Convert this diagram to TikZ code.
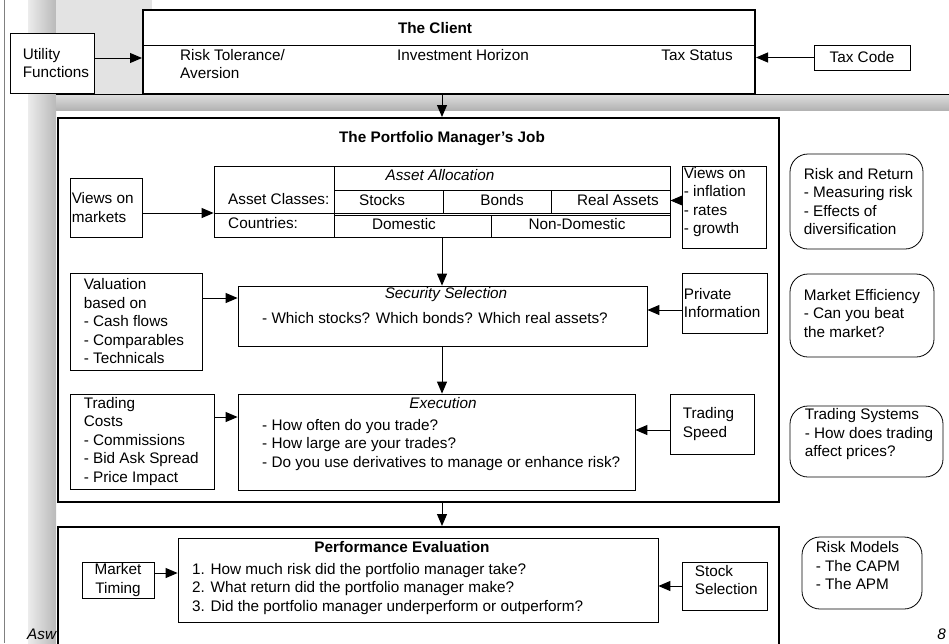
\documentclass[tikz,border=0pt]{standalone}
\usepackage{fontspec}
\setmainfont{Liberation Sans}
\usetikzlibrary{positioning,arrows.meta}

\tikzset{
  every node/.style={inner sep=0pt},
  box/.style={draw, line width=0.8pt, fill=white},
  bigbox/.style={draw, line width=2pt, fill=white},
  roundbox/.style={draw, line width=0.8pt, fill=white, rounded corners=18pt},
  txt/.style={align=left},
  arr/.style={line width=1pt, -{Triangle[length=12pt,width=10pt]}},
}

\begin{document}
\fontsize{15.3}{18.5}\selectfont
\begin{tikzpicture}[x=1pt, y=-1pt]
\useasboundingbox (0,0) rectangle (949,643);

% slide background
\draw[gray] (4,0) -- (4,643);
\shade[left color=gray!15, right color=gray!55] (28,0) rectangle (56,643);
\fill[gray!22] (56,0) rectangle (152,110);
\shade[top color=gray!25, bottom color=gray!60] (56,94) rectangle (949,110);
\draw (56,94) -- (949,94);

\node[anchor=base west, font=\itshape] (foot) at (27,639) {Asw};
\node[anchor=base east, font=\itshape] (page) at (946,639) {8};

% the client
\node[bigbox, minimum width=612, minimum height=84] (client) at (449,52) {};
\draw[line width=0.8pt] (143,45) -- (755,45);
\node[font=\bfseries] (clientT) at (435,28) {The Client};
\node[txt, anchor=west] (risk) at (180,64) {Risk Tolerance/\\Aversion};
\node (horizon) at (463,55) {Investment Horizon};
\node[anchor=east] (taxstat) at (733,55) {Tax Status};

\node[box, minimum width=84, minimum height=60] (util) at (52,63) {};
\node[txt, right=13pt of util.west] (utilT) {Utility\\Functions};

\node[box, minimum width=96, minimum height=25] (taxcode) at (862,57.5) {Tax Code};

% the portfolio manager's job
\node[bigbox, minimum width=721, minimum height=384] (port) at (418.5,310) {};
\node[font=\bfseries] (portT) at (442,139) {The Portfolio Manager’s Job};

\node[box, minimum width=72, minimum height=59] (markets) at (106,207.5) {};
\node[txt, right=2pt of markets.west] (marketsT) {Views on\\markets};

\node[box, minimum width=456, minimum height=71] (alloc) at (442,201.5) {};
\draw[line width=0.8pt] (334,166) -- (334,237);
\draw[line width=0.8pt] (334,190) -- (670,190);
\draw[line width=0.8pt] (214,213) -- (670,213);
\draw[line width=0.8pt] (334,215) -- (670,215);
\draw[line width=0.8pt] (443,190) -- (443,213);
\draw[line width=0.8pt] (551,190) -- (551,213);
\draw[line width=0.8pt] (491,215) -- (491,237);
\node[font=\itshape] (allocT) at (440,175) {Asset Allocation};
\node[anchor=west] (classes) at (228,199) {Asset Classes:};
\node[anchor=west] (countries) at (228,223) {Countries:};
\node (stocks) at (382,200) {Stocks};
\node (bonds) at (502,200) {Bonds};
\node (real) at (618,200) {Real Assets};
\node (domestic) at (404,224) {Domestic};
\node (nondom) at (577,224) {Non-Domestic};

\node[box, minimum width=84, minimum height=82] (infl) at (724,207) {};
\node[txt, right=2pt of infl.west, yshift=5pt] (inflT) {Views on\\- inflation\\- rates\\- growth};

\node[box, minimum width=132, minimum height=97] (val) at (136,321.5) {};
\node[txt, right=14pt of val.west] (valT) {Valuation\\based on\\- Cash flows\\- Comparables\\- Technicals};

\node[box, minimum width=409, minimum height=60] (sec) at (442.5,316) {};
\node[font=\itshape] (secT) at (446,295) {Security Selection};
\node[anchor=west] (secQ) at (262,318) {- Which stocks? Which bonds? Which real assets?};

\node[box, minimum width=85, minimum height=60] (priv) at (724.5,303) {};
\node[txt, right=2pt of priv.west] (privT) {Private\\Information};

\node[box, minimum width=144, minimum height=95] (costs) at (142,441.5) {};
\node[txt, right=14pt of costs.west] (costsT) {Trading\\Costs\\- Commissions\\- Bid Ask Spread\\- Price Impact};

\node[box, minimum width=397, minimum height=96] (exec) at (436.5,442) {};
\node[font=\itshape] (execT) at (443,403) {Execution};
\node[txt, anchor=west] (execQ) at (262,445) {- How often do you trade?\\- How large are your trades?\\- Do you use derivatives to manage or enhance risk?};

\node[box, minimum width=84, minimum height=60] (speed) at (712,424) {};
\node[txt, right=13pt of speed.west] (speedT) {Trading\\Speed};

% topics on the right
\node[roundbox, minimum width=133, minimum height=95] (riskret) at (856.5,201.5) {};
\node[txt, right=14pt of riskret.west] (riskretT) {Risk and Return\\- Measuring risk\\- Effects of\\diversification};

\node[roundbox, minimum width=144, minimum height=83] (eff) at (862,315.5) {};
\node[txt, right=14pt of eff.west, yshift=2pt] (effT) {Market Efficiency\\- Can you beat\\the market?};

\node[roundbox, minimum width=153, minimum height=71] (tsys) at (866.5,441.5) {};
\node[txt, right=15pt of tsys.west, yshift=7pt] (tsysT) {Trading Systems\\- How does trading\\affect prices?};

\node[roundbox, minimum width=120, minimum height=72] (models) at (862,573) {};
\node[txt, right=14pt of models.west, yshift=7pt] (modelsT) {Risk Models\\- The CAPM\\- The APM};

% performance evaluation
\node[bigbox, minimum width=721, minimum height=133] (evalbox) at (418.5,593.5) {};
\node[box, minimum width=480, minimum height=84] (perf) at (418,580) {};
\node[font=\bfseries] (perfT) at (402,547) {Performance Evaluation};
\node[txt, anchor=west] (perfQ) at (192,589) {1. How much risk did the portfolio manager take?\\2. What return did the portfolio manager make?\\3. Did the portfolio manager underperform or outperform?};

\node[box, align=center, minimum width=72, minimum height=36] (timing) at (118,580) {Market\\Timing};

\node[box, minimum width=85, minimum height=48] (stocksel) at (724.5,586) {};
\node[txt, right=13pt of stocksel.west, yshift=6pt] (stockselT) {Stock\\Selection};

% arrows
\draw[arr] ([yshift=5pt]util.east) -- ([yshift=5pt]util.east -| client.west);
\draw[arr] (taxcode.west) -- (taxcode.west -| client.east);
\draw[arr] (alloc |- client.south) -- (alloc |- port.north);
\draw[arr] ([yshift=-5.5pt]markets.east) -- ([yshift=-5.5pt]markets.east -| alloc.west);
\draw[arr] ([yshift=6.5pt]infl.west) -- ([yshift=6.5pt]infl.west -| alloc.east);
\draw[arr] (alloc.south) -- (alloc.south |- sec.north);
\draw[arr] ([yshift=23.5pt]val.east) -- ([yshift=23.5pt]val.east -| sec.west);
\draw[arr] ([yshift=-7pt]priv.west) -- ([yshift=-7pt]priv.west -| sec.east);
\draw[arr] (alloc |- sec.south) -- (alloc |- exec.north);
\draw[arr] ([yshift=24.5pt]costs.east) -- ([yshift=24.5pt]costs.east -| exec.west);
\draw[arr] ([yshift=-6pt]speed.west) -- ([yshift=-6pt]speed.west -| exec.east);
\draw[arr] (alloc |- port.south) -- (alloc |- evalbox.north);
\draw[arr] ([yshift=7pt]timing.east) -- ([yshift=7pt]timing.east -| perf.west);
\draw[arr] (stocksel.west) -- (stocksel.west -| perf.east);

\end{tikzpicture}
\end{document}
